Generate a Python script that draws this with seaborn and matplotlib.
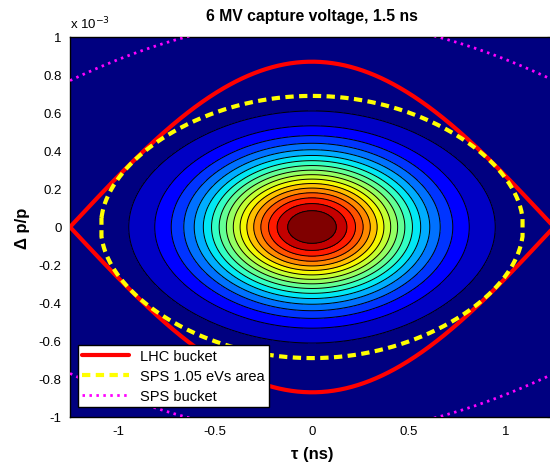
import numpy as np
import pandas as pd
import matplotlib
matplotlib.use("Agg")
import matplotlib.pyplot as plt
import seaborn as sns

# values (dp/p in units of 1e-3, tau in ns)
tau_limits = [-1.25, 1.25]
dpp_limits = [-1.0, 1.0]
x_ticks = [-1, -0.5, 0, 0.5, 1]
x_tick_labels = ["-1", "-0.5", "0", "0.5", "1"]
y_ticks = [-1, -0.8, -0.6, -0.4, -0.2, 0, 0.2, 0.4, 0.6, 0.8, 1]
y_tick_labels = ["-1", "-0.8", "-0.6", "-0.4", "-0.2", "0", "0.2", "0.4", "0.6", "0.8", "1"]

lhc_rf_period = 2.5       # ns, 400 MHz
sps_rf_period = 5.0       # ns, 200 MHz
lhc_bucket_height = 0.87  # LHC separatrix at tau = 0
sps_bucket_height = 1.09  # SPS separatrix at tau = 0
sps_area_height = 0.69    # 1.05 eVs contour at tau = 0
bunch_sigma = 0.254       # rms dp/p of the bunch
n_bands = 18

sns.set_theme(style="white")
plt.rcParams["font.family"] = ["Liberation Sans", "DejaVu Sans"]
plt.rcParams.update({"text.color": "black", "axes.labelcolor": "black",
                     "xtick.color": "black", "ytick.color": "black"})

tau = np.linspace(tau_limits[0], tau_limits[1], 401)
dpp = np.linspace(dpp_limits[0], dpp_limits[1], 401)
T, D = np.meshgrid(tau, dpp)

# bunch density as function of SPS hamiltonian
H = D**2 + sps_bucket_height**2 * np.sin(np.pi * T / sps_rf_period)**2
Z = np.exp(-H / (2 * bunch_sigma**2))

# separatrices / contour
lhc_up = lhc_bucket_height * np.cos(np.pi * tau / lhc_rf_period)
lhc = pd.DataFrame({"tau": np.r_[tau, tau[::-1]], "dpp": np.r_[lhc_up, -lhc_up[::-1]]})

h_area = (sps_area_height / sps_bucket_height)**2
s = np.sin(np.pi * tau / sps_rf_period)**2
inside = s <= h_area
ta = tau[inside]
area_up = sps_bucket_height * np.sqrt(np.clip(h_area - s[inside], 0, None))
area = pd.DataFrame({"tau": np.r_[ta, ta[::-1], ta[:1]],
                     "dpp": np.r_[area_up, -area_up[::-1], area_up[:1]]})

sps_up = sps_bucket_height * np.cos(np.pi * tau / sps_rf_period)

fig = plt.figure(figsize=(5.5, 4.64), dpi=100)
ax = fig.add_axes([70 / 550, 46 / 464, 484 / 550, 380 / 464])

levels = np.linspace(0, 1, n_bands + 1)
levels[0] = Z.min() - 1e-9
band_colors = plt.cm.jet(np.linspace(0, 1, n_bands))
ax.contourf(T, D, Z, levels=levels, colors=band_colors, zorder=1)
ax.contour(T, D, Z, levels=levels[1:-1], colors="black", linewidths=0.7, zorder=2)

sns.lineplot(data=lhc, x="tau", y="dpp", sort=False, estimator=None, ax=ax,
             color="red", linewidth=3, label="LHC bucket", zorder=4)
sns.lineplot(data=area, x="tau", y="dpp", sort=False, estimator=None, ax=ax,
             color="yellow", linewidth=3, zorder=5, label="SPS 1.05 eVs area")
ax.lines[-1].set_dashes((2, 1.3))
ax.plot(tau, sps_up, color="magenta", linewidth=2, dashes=(0.9, 1.6),
        label="SPS bucket", zorder=3)
ax.plot(tau, -sps_up, color="magenta", linewidth=2, dashes=(0.9, 1.6),
        label="_nolegend_", zorder=3)

ax.set_xlim(tau_limits)
ax.set_ylim(dpp_limits)
ax.set_xticks(x_ticks)
ax.set_xticklabels(x_tick_labels)
ax.set_yticks(y_ticks)
ax.set_yticklabels(y_tick_labels)
ax.tick_params(direction="in", length=5, width=0.8, top=True, right=True,
               labelsize=9.5, colors="black", pad=6)
for sp in ax.spines.values():
    sp.set_color("black")
    sp.set_linewidth(1)

ax.set_title("6 MV capture voltage, 1.5 ns", fontsize=11.3, fontweight="bold",
             pad=12, color="black")
ax.set_xlabel("\u03c4 (ns)", fontsize=12, fontweight="bold", labelpad=6)
ax.set_ylabel("\u0394 p/p", fontsize=12, fontweight="bold", labelpad=6)
ax.text(0.0, 1.015, "x 10$^{-3}$", transform=ax.transAxes, fontsize=9.5,
        ha="left", va="bottom")

leg = ax.legend(loc="lower left", bbox_to_anchor=(0.016, 0.026), borderaxespad=0,
                fontsize=10.5, handlelength=3.2, fancybox=False, framealpha=1,
                edgecolor="black", borderpad=0.3, labelspacing=0.4)
leg.get_frame().set_linewidth(1)
leg.set_zorder(10)

fig.savefig("out.png", dpi=100)
